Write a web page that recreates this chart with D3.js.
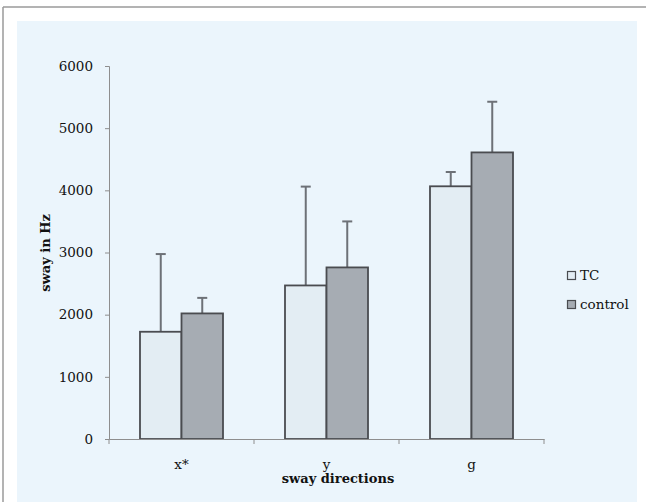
<!DOCTYPE html>
<html>
<head>
<meta charset="utf-8">
<script src="https://cdn.jsdelivr.net/npm/d3@7"></script>
<style>
  body { margin: 0; background: #fff; }
  svg { display: block; font-family: "DejaVu Serif", serif; }
</style>
</head>
<body>
<svg id="chart" width="646" height="502"></svg>
<script>
// values
const categories = ['x*', 'y', 'g'];
const seriesNames = ['TC', 'control'];
const tcMeans = [1725, 2470, 4065];
const tcErrors = [1250, 1590, 230];
const controlMeans = [2020, 2760, 4610];
const controlErrors = [250, 740, 815];
const yTicks = [0, 1000, 2000, 3000, 4000, 5000, 6000];

const fills = { TC: '#e3edf3', control: '#a6acb3' };

const svg = d3.select('#chart');
const margin = { top: 66, left: 109 };
const width = 435, height = 373;

// outer frame + panel
svg.append('line').attr('x1', 3).attr('x2', 646).attr('y1', 7).attr('y2', 7)
  .attr('stroke', '#9a9a9a').attr('stroke-width', 1.5);
svg.append('line').attr('x1', 3).attr('x2', 3).attr('y1', 7).attr('y2', 502)
  .attr('stroke', '#9a9a9a').attr('stroke-width', 1.5);
svg.append('rect').attr('x', 17).attr('y', 21).attr('width', 620).attr('height', 490)
  .attr('fill', '#ebf5fc');

const g = svg.append('g').attr('transform', `translate(${margin.left}, ${margin.top})`);

const x = d3.scaleBand().domain(categories).range([0, width]).paddingInner(0).paddingOuter(0);
const xInner = d3.scaleBand().domain(seriesNames).range([31, x.bandwidth() - 31]);
const y = d3.scaleLinear().domain([0, 6000]).range([height, 0]);

const rows = categories.map((c, i) => ({
  cat: c,
  vals: [
    { key: 'TC', v: tcMeans[i], e: tcErrors[i] },
    { key: 'control', v: controlMeans[i], e: controlErrors[i] }
  ]
}));

// axes
const yAxis = g.append('g')
  .call(d3.axisLeft(y).tickValues(yTicks).tickSize(4).tickPadding(12).tickFormat(d3.format('d')));
yAxis.select('.domain').attr('stroke', '#8e8e8e');
yAxis.selectAll('.tick line').attr('stroke', '#8e8e8e');
yAxis.selectAll('.tick text').attr('font-family', 'DejaVu Serif').attr('font-size', 13.5).attr('fill', '#111');

const groups = g.selectAll('.grp').data(rows).enter().append('g')
  .attr('transform', d => `translate(${x(d.cat)}, 0)`);

groups.selectAll('.err').data(d => d.vals).enter().append('g').each(function(d) {
  const cx = xInner(d.key) + xInner.bandwidth() / 2;
  const sel = d3.select(this);
  sel.append('line').attr('x1', cx).attr('x2', cx).attr('y1', y(d.v)).attr('y2', y(d.v + d.e))
    .attr('stroke', '#6d7177').attr('stroke-width', 2);
  sel.append('line').attr('x1', cx - 5).attr('x2', cx + 5).attr('y1', y(d.v + d.e)).attr('y2', y(d.v + d.e))
    .attr('stroke', '#6d7177').attr('stroke-width', 2);
});

groups.selectAll('.bar').data(d => d.vals).enter().append('rect')
  .attr('x', d => xInner(d.key))
  .attr('y', d => y(d.v))
  .attr('width', xInner.bandwidth())
  .attr('height', d => y(0) - y(d.v))
  .attr('fill', d => fills[d.key])
  .attr('stroke', '#4a4c50')
  .attr('stroke-width', 1.8);

const xAxis = g.append('g').attr('transform', `translate(0, ${height})`)
  .call(d3.axisBottom(x).tickSize(0).tickPadding(20));
xAxis.select('.domain').attr('stroke', '#8e8e8e');
xAxis.selectAll('.tick text').attr('font-family', 'DejaVu Serif').attr('font-size', 13.5).attr('fill', '#111');
// ticks at category boundaries
g.selectAll('.xb').data(categories.concat(['end'])).enter().append('line')
  .attr('x1', (d, i) => i * x.step()).attr('x2', (d, i) => i * x.step())
  .attr('y1', height).attr('y2', height + 5)
  .attr('stroke', '#8e8e8e');

// axis titles
svg.append('text').attr('x', 338).attr('y', 483).attr('text-anchor', 'middle')
  .attr('font-weight', 'bold').attr('font-size', 13).attr('fill', '#111').text('sway directions');
svg.append('text').attr('transform', 'translate(50, 253) rotate(-90)').attr('text-anchor', 'middle')
  .attr('font-weight', 'bold').attr('font-size', 13).attr('fill', '#111').text('sway in Hz');

// legend
const leg = svg.append('g').attr('transform', 'translate(567, 280)');
const items = leg.selectAll('g').data(seriesNames).enter().append('g')
  .attr('transform', (d, i) => `translate(0, ${i * 29})`);
items.append('rect').attr('x', 0.5).attr('y', -8.5).attr('width', 8).attr('height', 8)
  .attr('fill', d => fills[d]).attr('stroke', '#4a4c50').attr('stroke-width', 1.2);
items.append('text').attr('x', 13).attr('y', 0).attr('font-size', 13.5).attr('fill', '#111').text(d => d);
</script>
</body>
</html>
